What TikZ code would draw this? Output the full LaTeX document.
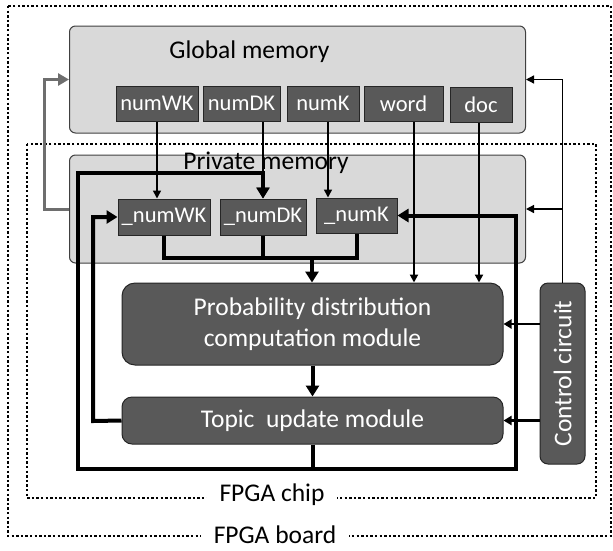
\documentclass[tikz,border=0pt]{standalone}
\usepackage{fontspec}
\setmainfont{Carlito}
\usepackage{tikz}
\usetikzlibrary{arrows.meta, positioning, calc}
\definecolor{memfill}{HTML}{D9D9D9}
\definecolor{boxfill}{HTML}{595959}
\definecolor{loopgray}{HTML}{6E6E6E}

\begin{document}
\begin{tikzpicture}[x=1pt, y=-1pt, >=Triangle]
    \tikzstyle{mem}        = [rectangle, rounded corners=6pt, draw=black!75, line width=1pt, fill=memfill, minimum width=456pt, inner sep=0pt]
    \tikzstyle{var}        = [rectangle, draw=black!85, line width=1pt, fill=boxfill, text=white, inner sep=0pt, minimum height=35pt, font=\fontsize{22.5}{26}\selectfont]
    \tikzstyle{module}     = [rectangle, draw=black!85, line width=1pt, fill=boxfill, text=white, align=center, minimum width=381pt, font=\fontsize{25.5}{31}\selectfont]
    \tikzstyle{bigtext}    = [inner sep=0pt, font=\fontsize{25.5}{30}\selectfont]
    \tikzstyle{dotbox}     = [draw, line width=2.6pt, dash pattern=on 2.4pt off 2.2pt]
    \tikzstyle{cutlabel}   = [bigtext, fill=white, inner xsep=13pt, inner ysep=1pt]
    \tikzstyle{thinarrow}  = [->, line width=1.5pt, >={Triangle[length=8pt, width=8pt]}]
    \tikzstyle{midarrow}   = [->, line width=2.5pt, >={Triangle[length=11pt, width=12pt]}]
    \tikzstyle{wordarrow}  = [->, line width=2pt, >={Triangle[length=8pt, width=8pt]}]
    \tikzstyle{ctlarrow}   = [->, line width=1.3pt, >={Triangle[length=8pt, width=8pt]}]
    \tikzstyle{sidearrow}  = [->, line width=2.5pt, >={Triangle[length=8pt, width=9pt]}]
    \tikzstyle{grayarrow}  = [->, line width=3pt, draw=loopgray, >={Triangle[length=11pt, width=12pt]}]
    \tikzstyle{thickline}  = [line width=4pt]
    \tikzstyle{thickarrow} = [->, line width=4pt, >={Triangle[length=11pt, width=13pt]}]

    \useasboundingbox (0,0) rectangle (613,550);

    \draw [dotbox] (8,6) rectangle (611,536);
    \draw [dotbox] (27,144) rectangle (596,498);
    \node (chiplabel)  [cutlabel] at (272,495) {FPGA chip};
    \node (boardlabel) [cutlabel] at (275,535) {FPGA board};

    \node (glob) [mem, minimum height=107pt] at (297.5,79.5) {};
    \node (globlabel) [bigtext] at (249.5,52) {Global memory};
    \node (nwk)  [var, minimum width=82pt] at (157,103.5) {numWK};
    \node (ndk)  [var, minimum width=77pt] at (241.5,103.5) {numDK};
    \node (nk)   [var, minimum width=72pt] at (323,103.5) {numK};
    \node (word) [var, minimum width=79pt] at (403.5,103.5) {word};
    \node (doc)  [var, minimum width=62pt] at (481,104.5) {doc};

    \node (priv) [mem, minimum height=108pt] at (297.5,209) {};
    \node (privlabel) [bigtext] at (266,163) {Private memory};
    \node (pnwk) [var, minimum width=92pt, minimum height=36pt] at (164,217) {\_numWK};
    \node (pndk) [var, minimum width=86pt, minimum height=36pt] at (263,217) {\_numDK};
    \node (pnk)  [var, minimum width=81pt] at (356.5,215.5) {\_numK};

    \node (prob)  [module, rounded corners=13pt, minimum height=82pt] at (312.5,324) {Probability distribution\\computation module};
    \node (topic) [module, rounded corners=10pt, minimum height=47pt] at (312.5,420.5) {Topic\ \ update module};

    \node (ctrl) [rectangle, rounded corners=8pt, draw=black!85, line width=1pt, fill=boxfill, minimum width=45pt, minimum height=181pt] at (562.5,373.5) {};
    \node (ctrltext) [bigtext, text=white, rotate=90] at (ctrl.center) {Control circuit};

    \coordinate (join)     at (312,258);
    \coordinate (fbbot)    at (312.5,469);
    \coordinate (fbright)  at (516,469);
    \coordinate (fbcorner) at (78,173);
    \coordinate (tuleft)   at (93,421);

    \draw [thinarrow] (nwk.south) -- (nwk.south |- pnwk.north);
    \draw [midarrow]  (pndk.north |- ndk.south) -- (pndk.north);
    \draw [thinarrow] ([xshift=5pt]nk.south) -- ([xshift=5pt]nk.south |- pnk.north);
    \draw [wordarrow] ([xshift=10.5pt]word.south) -- ([xshift=10.5pt]word.south |- prob.north);
    \draw [wordarrow] ([xshift=-2pt]doc.south) -- ([xshift=-2pt]doc.south |- prob.north);

    \draw [grayarrow] (priv.west) -- ++(-25,0) |- (glob.west);

    \draw [ctlarrow] (ctrl.north) |- (glob.east);
    \draw [ctlarrow] (ctrl.north |- priv.east) -- (priv.east);
    \draw [sidearrow] (ctrl.west |- prob.east) -- (prob.east);
    \draw [sidearrow] (ctrl.west |- topic.east) -- (topic.east);

    \draw [thickline] (pnwk.south) |- (pnk.south |- join) -- (pnk.south);
    \draw [thickline] (pndk.south) -- (pndk.south |- join);
    \draw [thickarrow] (join) -- (join |- prob.north);
    \draw [thickarrow] (prob) -- (topic);
    \draw [thickarrow] (topic.south) -- (fbbot) -| (fbcorner) -| (pndk.north);
    \draw [thickarrow] (fbbot) -- (fbright) |- (pnk.east);
    \draw [thickarrow] (topic.west) -- (tuleft) |- (pnwk.west);
\end{tikzpicture}
\end{document}
